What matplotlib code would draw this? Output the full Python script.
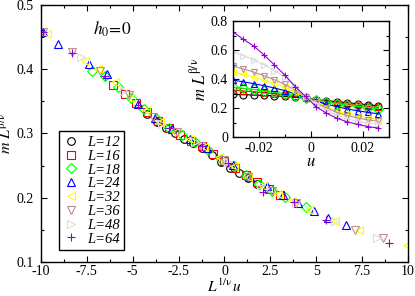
import matplotlib
matplotlib.use("Agg")
import matplotlib.pyplot as plt
from matplotlib.ticker import MultipleLocator

plt.rcParams['font.family'] = ['Liberation Serif', 'DejaVu Serif']
plt.rcParams['mathtext.fontset'] = 'stix'

# tamaños de sistema y estilos tipo xmgrace
sizes = [12, 16, 18, 24, 32, 36, 48, 64]
colores = ['#000000', '#ff0000', '#00ff00', '#0000ff', '#ffff00', '#bc8f8f', '#dcdcdc', '#9400d3']
marcadores = ['o', 's', 'D', '^', '<', 'v', '>', '+']

# datos del colapso: x = L^{1/nu} u , y = m L^{beta/nu}
x12 = [-4.2, -3.7, -3.2, -2.7, -2.2, -1.7, -1.2, -0.7, -0.2, 0.3, 0.8, 1.3, 1.8]
y12 = [0.330, 0.318, 0.308, 0.300, 0.292, 0.285, 0.277, 0.266, 0.256, 0.247, 0.239, 0.230, 0.221]
x16 = [-6.1, -5.4, -4.8, -4.2, -3.6, -3.0, -2.4, -1.8, -1.2, -0.6, 0.0, 0.6, 1.2, 1.8, 2.4, 3.0]
y16 = [0.376, 0.362, 0.347, 0.333, 0.319, 0.308, 0.298, 0.289, 0.280, 0.268, 0.257, 0.246, 0.235, 0.224, 0.213, 0.205]
x18 = [-7.2, -6.5, -5.8, -5.1, -4.4, -3.7, -3.0, -2.3, -1.6, -0.9, -0.2, 0.5, 1.2, 1.9, 2.6, 3.3, 4.44]
y18 = [0.397, 0.389, 0.372, 0.355, 0.338, 0.322, 0.309, 0.297, 0.287, 0.274, 0.261, 0.249, 0.236, 0.222, 0.211, 0.201, 0.185]
x24 = [-9.9, -9.06, -7.38, -6.42, -4.73, -3.79, -2.85, -1.9, -0.96, 0.46, 1.4, 2.3, 3.19, 4.0, 4.88, 5.64, 6.6]
y24 = [0.458, 0.439, 0.408, 0.392, 0.346, 0.324, 0.307, 0.292, 0.277, 0.251, 0.233, 0.218, 0.205, 0.192, 0.179, 0.169, 0.158]
x32 = [-9.7, -7.6, -6.9, -5.97, -5.1, -4.3, -3.5, -2.7, -1.9, -1.1, -0.3, 0.5, 1.3, 2.1, 2.9, 3.7, 4.6, 6.0, 7.33, 9.93]
y32 = [0.455, 0.413, 0.400, 0.380, 0.355, 0.336, 0.318, 0.303, 0.292, 0.279, 0.263, 0.249, 0.233, 0.219, 0.206, 0.195, 0.181, 0.164, 0.150, 0.127]
x36 = [-9.9, -8.3, -6.8, -5.2, -3.9, -2.6, -1.3, 0.0, 1.3, 2.6, 3.9, 7.1, 8.62]
y36 = [0.458, 0.427, 0.398, 0.360, 0.326, 0.302, 0.281, 0.258, 0.233, 0.211, 0.192, 0.150, 0.137]
x48 = [-7.84, -5.5, -3.4, -1.6, 0.2, 2.0, 3.9, 6.0, 8.29]
y48 = [0.419, 0.366, 0.315, 0.286, 0.255, 0.220, 0.192, 0.164, 0.138]
x64 = [-9.9, -8.33, -6.5, -4.7, -3.0, -1.2, 0.2, 2.1, 3.8, 5.53, 8.97]
y64 = [0.458, 0.426, 0.390, 0.345, 0.308, 0.281, 0.254, 0.209, 0.193, 0.166, 0.130]

# datos del recuadro: m L^{beta/nu} frente a u
u = [-0.030, -0.026, -0.022, -0.018, -0.014, -0.010, -0.006, -0.002,
     0.002, 0.006, 0.010, 0.014, 0.018, 0.022, 0.026]
m12 = [0.294, 0.292, 0.290, 0.287, 0.284, 0.280, 0.275, 0.269, 0.258, 0.251, 0.244, 0.237, 0.230, 0.223, 0.216]
m16 = [0.324, 0.318, 0.312, 0.305, 0.297, 0.289, 0.280, 0.271, 0.254, 0.245, 0.236, 0.227, 0.219, 0.211, 0.204]
m18 = [0.343, 0.336, 0.328, 0.319, 0.309, 0.298, 0.286, 0.272, 0.252, 0.241, 0.230, 0.220, 0.211, 0.203, 0.195]
m24 = [0.393, 0.381, 0.368, 0.354, 0.338, 0.320, 0.298, 0.274, 0.247, 0.227, 0.209, 0.194, 0.181, 0.170, 0.160]
m32 = [0.450, 0.433, 0.414, 0.393, 0.369, 0.342, 0.311, 0.276, 0.240, 0.208, 0.181, 0.160, 0.143, 0.131, 0.120]
m36 = [0.490, 0.470, 0.448, 0.423, 0.395, 0.363, 0.323, 0.277, 0.236, 0.200, 0.170, 0.148, 0.131, 0.118, 0.108]
m48 = [0.588, 0.562, 0.532, 0.498, 0.458, 0.412, 0.350, 0.279, 0.228, 0.184, 0.150, 0.126, 0.109, 0.097, 0.089]
m64 = [0.726, 0.674, 0.628, 0.566, 0.497, 0.428, 0.347, 0.280, 0.209, 0.165, 0.130, 0.105, 0.087, 0.072, 0.062]

xs = [x12, x16, x18, x24, x32, x36, x48, x64]
ys = [y12, y16, y18, y24, y32, y36, y48, y64]
ms = [m12, m16, m18, m24, m32, m36, m48, m64]


def estilo_ejes(ax, fs):
    ax.tick_params(which='both', direction='in', top=True, right=True, labelsize=fs, width=0.8)
    ax.tick_params(which='major', length=4)
    ax.tick_params(which='minor', length=2)
    for s in ax.spines.values():
        s.set_linewidth(1.0)


fig = plt.figure(figsize=(4.15, 2.96), dpi=100)
ax = fig.add_axes([0.0988, 0.115, 0.8842, 0.868])

for L, c, mk, x, y in zip(sizes, colores, marcadores, xs, ys):
    ax.plot(x, y, linestyle='none', marker=mk, markersize=5.5, markerfacecolor='none',
            markeredgecolor=c, markeredgewidth=0.8, label='L=%d' % L)

ax.set_xlim(-10, 10)
ax.set_ylim(0.1, 0.5)
ax.set_xticks([-10, -7.5, -5, -2.5, 0, 2.5, 5, 7.5, 10])
ax.set_xticklabels(['-10', '-7.5', '-5', '-2.5', '0', '2.5', '5', '7.5', '10'])
ax.xaxis.set_minor_locator(MultipleLocator(1.25))
ax.set_yticks([0.1, 0.2, 0.3, 0.4, 0.5])
ax.set_yticklabels(['0.1', '0.2', '0.3', '0.4', '0.5'])
ax.yaxis.set_minor_locator(MultipleLocator(0.05))
estilo_ejes(ax, 10)
ax.tick_params(axis='x', which='major', pad=2.5)
ax.tick_params(axis='y', which='major', pad=5)

ax.set_xlabel(r'$L^{\mathrm{1/\nu}}\,u$', fontsize=11, labelpad=-0.5)
ax.set_ylabel(r'$m\ L^{\mathrm{\beta/\nu}}$', fontsize=11.5, labelpad=1)
ax.text(0.142, 0.885, r'$h_0\!=\!0$', transform=ax.transAxes, fontsize=12.5)

leg = ax.legend(loc='lower left', bbox_to_anchor=(0.049, 0.047), borderaxespad=0,
                prop={'style': 'italic', 'size': 10.5}, fancybox=False, framealpha=1,
                edgecolor='black', handlelength=1.0, handletextpad=0.6,
                labelspacing=0.04, borderpad=0.3)
leg.get_frame().set_linewidth(1.0)

# recuadro
ins = fig.add_axes([0.561, 0.537, 0.376, 0.392])
for L, c, mk, m in zip(sizes, colores, marcadores, ms):
    ins.plot(u, m, color=c, linewidth=0.8, marker=mk, markersize=5, markerfacecolor='none',
             markeredgecolor=c, markeredgewidth=0.8)
ins.set_xlim(-0.03, 0.03)
ins.set_ylim(0, 0.8)
ins.set_xticks([-0.02, 0, 0.02])
ins.set_xticklabels(['-0.02', '0', '0.02'])
ins.xaxis.set_minor_locator(MultipleLocator(0.01))
ins.set_yticks([0, 0.2, 0.4, 0.6, 0.8])
ins.set_yticklabels(['0', '0.2', '0.4', '0.6', '0.8'])
ins.yaxis.set_minor_locator(MultipleLocator(0.1))
estilo_ejes(ins, 10)
ins.tick_params(which='minor', top=False)
ins.set_xlabel(r'$u$', fontsize=12, labelpad=-1)
ins.set_ylabel(r'$m\ L^{\mathrm{\beta/\nu}}$', fontsize=12, labelpad=1)

fig.savefig('out.png', dpi=100)
